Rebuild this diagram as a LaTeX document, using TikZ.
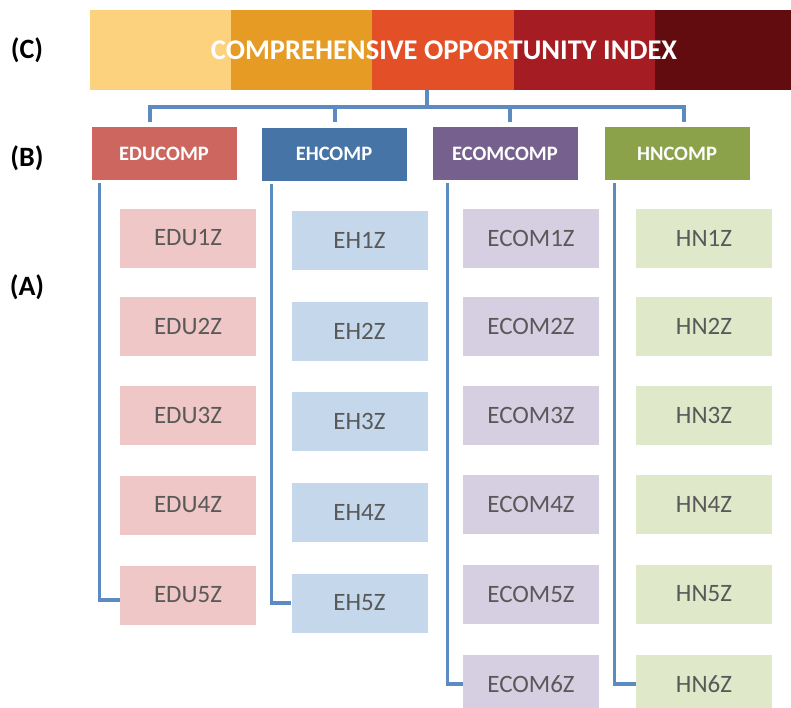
\documentclass[tikz,border=0pt]{standalone}
\usepackage{fontspec}
\setmainfont{Carlito}
\usetikzlibrary{calc}
\definecolor{coiA}{HTML}{FDD27F}
\definecolor{coiB}{HTML}{E59B24}
\definecolor{coiC}{HTML}{E34F26}
\definecolor{coiD}{HTML}{A51D23}
\definecolor{coiE}{HTML}{620C0F}
\definecolor{eduDark}{HTML}{CD665F}
\definecolor{ehDark}{HTML}{4674A6}
\definecolor{ecomDark}{HTML}{76608E}
\definecolor{hnDark}{HTML}{8BA14A}
\definecolor{eduLight}{HTML}{EFC7C6}
\definecolor{ehLight}{HTML}{C5D7EB}
\definecolor{ecomLight}{HTML}{D6CFE2}
\definecolor{hnLight}{HTML}{DFE8C9}
\definecolor{itemText}{HTML}{595959}
\definecolor{linkBlue}{HTML}{5B8BC1}

\begin{document}
\begin{tikzpicture}[x=1pt, y=-1pt,
		link/.style={line width=3.5pt, color=linkBlue},
		level/.style={font=\fontsize{28}{32}\selectfont\bfseries, text=black},
		comp/.style={minimum width=145pt, minimum height=53pt, inner sep=0pt, text=white,
			font=\fontsize{20.5}{24}\selectfont\bfseries},
		item/.style={minimum width=136pt, minimum height=59pt, inner sep=0pt, text=itemText,
			font=\fontsize{25}{29}\selectfont}]
			%%%%% START %%%%%
			\useasboundingbox (0, 0) rectangle (791, 707);
			
			% top index bar
			\fill[coiA] (90, 10) rectangle (231, 90);
			\fill[coiB] (231, 10) rectangle (372, 90);
			\fill[coiC] (372, 10) rectangle (514, 90);
			\fill[coiD] (514, 10) rectangle (655, 90);
			\fill[coiE] (655, 10) rectangle (796, 90);
			\node[minimum width=701pt, minimum height=80pt, inner sep=0pt, text=white,
				font=\fontsize{28.5}{33}\selectfont\bfseries] (coi) at (444, 50) {COMPREHENSIVE OPPORTUNITY INDEX};
			
			% level labels
			\node[level] (lvlC) at (27, 50) {(C)};
			\node[level] (lvlB) at (27, 158) {(B)};
			\node[level] (lvlA) at (27, 287) {(A)};
			
			% components
			\node[comp, fill=eduDark] (edu) at (164, 153.5) {EDUCOMP};
			\node[comp, fill=ehDark] (eh) at (334, 154) {EHCOMP};
			\node[comp, fill=ecomDark] (ecom) at (505, 153.5) {ECOMCOMP};
			\node[comp, fill=hnDark] (hn) at (677, 153.5) {HNCOMP};
			
			% bus from the index to the components
			\coordinate (hub) at (427, 107);
			\coordinate (eduDrop) at ($(edu.north)+(-14, -5)$);
			\coordinate (ehDrop) at ($(eh.north)+(1, -5)$);
			\coordinate (ecomDrop) at ($(ecom.north)+(5, -5)$);
			\coordinate (hnDrop) at ($(hn.north)+(7, -5)$);
			\draw[link] (coi.south -| hub) -- (hub);
			\draw[link] (eduDrop) |- (hub) -| (hnDrop);
			\draw[link] (ehDrop) -- (ehDrop |- hub);
			\draw[link] (ecomDrop) -- (ecomDrop |- hub);
			
			% EDU items
			\node[item, fill=eduLight] (edu1) at (188, 238) {EDU1Z};
			\node[item, fill=eduLight] (edu2) at (188, 326) {EDU2Z};
			\node[item, fill=eduLight] (edu3) at (188, 415) {EDU3Z};
			\node[item, fill=eduLight] (edu4) at (188, 505) {EDU4Z};
			\node[item, fill=eduLight] (edu5) at (188, 595) {EDU5Z};
			
			% EH items
			\node[item, fill=ehLight] (eh1) at (359.5, 240) {EH1Z};
			\node[item, fill=ehLight] (eh2) at (359.5, 331) {EH2Z};
			\node[item, fill=ehLight] (eh3) at (359.5, 421) {EH3Z};
			\node[item, fill=ehLight] (eh4) at (359.5, 512) {EH4Z};
			\node[item, fill=ehLight] (eh5) at (359.5, 603) {EH5Z};
			
			% ECOM items
			\node[item, fill=ecomLight] (ecom1) at (531, 238) {ECOM1Z};
			\node[item, fill=ecomLight] (ecom2) at (531, 326) {ECOM2Z};
			\node[item, fill=ecomLight] (ecom3) at (531, 415) {ECOM3Z};
			\node[item, fill=ecomLight] (ecom4) at (531, 504) {ECOM4Z};
			\node[item, fill=ecomLight] (ecom5) at (531, 594) {ECOM5Z};
			\node[item, fill=ecomLight] (ecom6) at (531, 684) {ECOM6Z};
			
			% HN items
			\node[item, fill=hnLight] (hn1) at (704, 238) {HN1Z};
			\node[item, fill=hnLight] (hn2) at (704, 326) {HN2Z};
			\node[item, fill=hnLight] (hn3) at (704, 415) {HN3Z};
			\node[item, fill=hnLight] (hn4) at (704, 504) {HN4Z};
			\node[item, fill=hnLight] (hn5) at (704, 594) {HN5Z};
			\node[item, fill=hnLight] (hn6) at (704, 684) {HN6Z};
			
			% column brackets
			\draw[link] ($(edu.south west)+(8, 3)$) |- ($(edu5.west)+(0, 5)$);
			\draw[link] ($(eh.south west)+(10, 3)$) |- (eh5.west);
			\draw[link] ($(ecom.south west)+(15, 3)$) |- (ecom6.west);
			\draw[link] ($(hn.south west)+(10, 3)$) |- (hn6.west);
			
			%%%%% END %%%%%
		\end{tikzpicture}
\end{document}
